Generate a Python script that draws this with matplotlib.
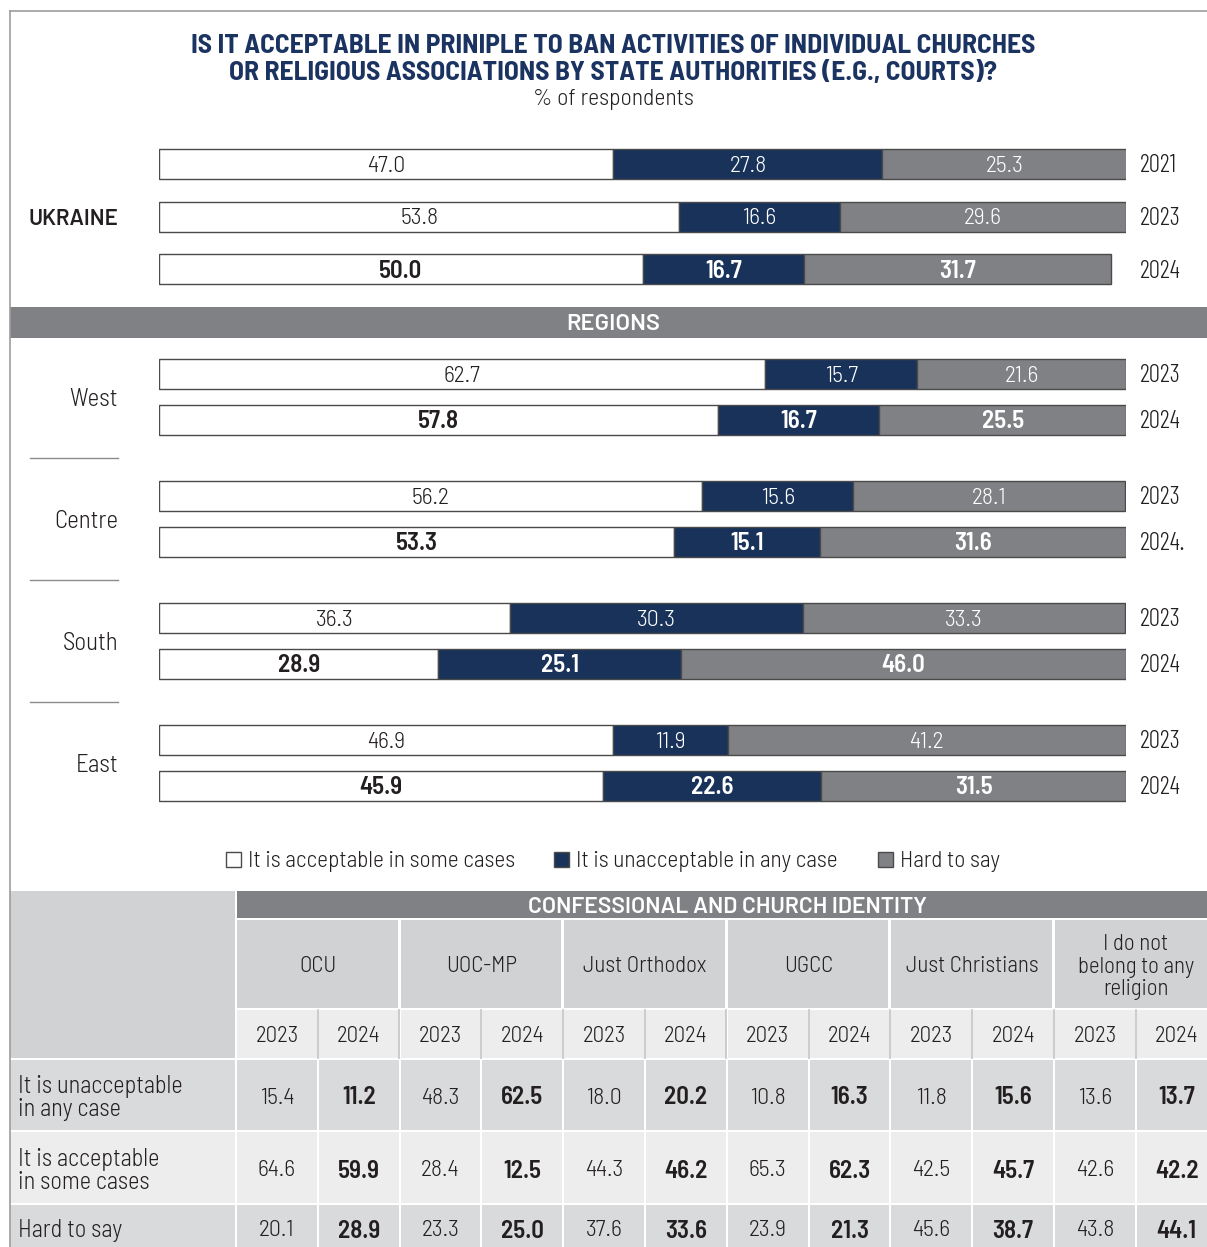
import matplotlib
matplotlib.use("Agg")
import matplotlib.pyplot as plt
from matplotlib.patches import Rectangle

# Datos de las barras: Ucrania
ukraine_years = ["2021", "2023", "2024"]
ukraine_acceptable = [47.0, 53.8, 50.0]
ukraine_unacceptable = [27.8, 16.6, 16.7]
ukraine_hard = [25.3, 29.6, 31.7]

# Datos de las barras: regiones (2023 y 2024)
regions = ["West", "Centre", "South", "East"]
region_year_labels = [["2023", "2024"], ["2023", "2024."], ["2023", "2024"], ["2023", "2024"]]
region_acceptable_2023 = [62.7, 56.2, 36.3, 46.9]
region_unacceptable_2023 = [15.7, 15.6, 30.3, 11.9]
region_hard_2023 = [21.6, 28.1, 33.3, 41.2]
region_acceptable_2024 = [57.8, 53.3, 28.9, 45.9]
region_unacceptable_2024 = [16.7, 15.1, 25.1, 22.6]
region_hard_2024 = [25.5, 31.6, 46.0, 31.5]

legend_labels = ["It is acceptable in some cases", "It is unacceptable in any case", "Hard to say"]

# Datos de la tabla por identidad confesional
groups = ["OCU", "UOC-MP", "Just Orthodox", "UGCC", "Just Christians",
          "I do not\nbelong to any\nreligion"]
table_years = ["2023", "2024"]
row_labels = ["It is unacceptable\nin any case", "It is acceptable\nin some cases", "Hard to say"]
unacceptable_2023 = [15.4, 48.3, 18.0, 10.8, 11.8, 13.6]
unacceptable_2024 = [11.2, 62.5, 20.2, 16.3, 15.6, 13.7]
acceptable_2023 = [64.6, 28.4, 44.3, 65.3, 42.5, 42.6]
acceptable_2024 = [59.9, 12.5, 46.2, 62.3, 45.7, 42.2]
hard_2023 = [20.1, 23.3, 37.6, 23.9, 45.6, 43.8]
hard_2024 = [28.9, 25.0, 33.6, 21.3, 38.7, 44.1]

# Colores
NAVY = "#18325a"
GREY = "#808184"
EDGE = "#4a4a4a"
TXT = "#231f20"
CELL_DARK = "#d9dadb"
CELL_LIGHT = "#ededed"
HEAD_CELL = "#d1d2d4"

# Fuentes tipo DIN
C_LIGHT = dict(family=["Barlow Condensed", "Open Sans", "DejaVu Sans"], fontstretch="condensed", fontweight=300)
S_LIGHT = dict(family=["Barlow Semi Condensed", "Open Sans", "DejaVu Sans"], fontstretch="condensed", fontweight=300)
S_BOLD = dict(family=["Barlow Semi Condensed", "Open Sans Condensed", "DejaVu Sans"], fontstretch="condensed", fontweight=600)
N_BOLD = dict(family=["Barlow", "Open Sans", "DejaVu Sans"], fontweight=600)

W, H = 1207, 1247
fig = plt.figure(figsize=(W / 100, H / 100), dpi=100)
fig.patch.set_facecolor("white")

# Eje de fondo en píxeles para textos, bandas y tabla
bg = fig.add_axes([0, 0, 1, 1])
bg.set_xlim(0, W)
bg.set_ylim(H, 0)
bg.axis("off")

# Marco
bg.plot([10, W], [11, 11], color="#9d9d9d", lw=1.2)
bg.plot([10, 10], [11, H], color="#9d9d9d", lw=1.2)

# Título
bg.text(613, 46, "IS IT ACCEPTABLE IN PRINIPLE TO BAN ACTIVITIES OF INDIVIDUAL CHURCHES",
        ha="center", va="center", fontsize=19.8, color="#1b3361",
        family=["Barlow Semi Condensed", "DejaVu Sans"], fontweight=700)
bg.text(613, 73, "OR RELIGIOUS ASSOCIATIONS BY STATE AUTHORITIES (E.G., COURTS)?",
        ha="center", va="center", fontsize=19.8, color="#1b3361",
        family=["Barlow Semi Condensed", "DejaVu Sans"], fontweight=700)
bg.text(613, 99, "% of respondents", ha="center", va="center", fontsize=17, color=TXT, **S_LIGHT)

# Eje de barras: x en %, y en píxeles
ax = fig.add_axes([159 / W, 0, 967 / W, 1])
ax.set_xlim(0, 100)
ax.set_ylim(H, 0)
ax.axis("off")

BAR_H = 30


def stacked_bar(y, acc, unacc, hard, bold):
    font = S_BOLD if bold else S_LIGHT
    size = 18 if bold else 17
    lefts = [0, acc, acc + unacc]
    widths = [acc, unacc, hard]
    colors = ["white", NAVY, GREY]
    tcolors = [TXT, "white", "white"]
    bars = ax.barh([y] * 3, widths, left=lefts, height=BAR_H, color=colors,
                   edgecolor=EDGE, linewidth=1.0)
    for b, w, tc in zip(bars, widths, tcolors):
        ax.text(b.get_x() + w / 2, y + 2, f"{w:.1f}", ha="center", va="center",
                fontsize=size, color=tc, **font)


ukraine_y = [164, 216.5, 269]
for i, y in enumerate(ukraine_y):
    stacked_bar(y, ukraine_acceptable[i], ukraine_unacceptable[i], ukraine_hard[i],
                bold=(i == len(ukraine_y) - 1))
    bg.text(1140, y + 2, ukraine_years[i], ha="left", va="center", fontsize=18, color=TXT, **C_LIGHT)
bg.text(118, 219, "UKRAINE", ha="right", va="center", fontsize=16, color=TXT, **N_BOLD)

# Banda "REGIONS"
bg.add_patch(Rectangle((10, 307), W - 10, 31, color=GREY, lw=0))
bg.text(613, 324, "REGIONS", ha="center", va="center", fontsize=17, color="white", **N_BOLD)

region_top = [374, 496, 618, 740]
for i, name in enumerate(regions):
    y1, y2 = region_top[i], region_top[i] + 46
    stacked_bar(y1, region_acceptable_2023[i], region_unacceptable_2023[i], region_hard_2023[i], False)
    stacked_bar(y2, region_acceptable_2024[i], region_unacceptable_2024[i], region_hard_2024[i], True)
    bg.text(1140, y1 + 2, region_year_labels[i][0], ha="left", va="center", fontsize=18, color=TXT, **C_LIGHT)
    bg.text(1140, y2 + 2, region_year_labels[i][1], ha="left", va="center", fontsize=18, color=TXT, **C_LIGHT)
    bg.text(118, (y1 + y2) / 2 + 2, name, ha="right", va="center", fontsize=18, color=TXT, **S_LIGHT)
    if i < len(regions) - 1:
        bg.plot([30, 118], [y2 + 38, y2 + 38], color="#8c8c8c", lw=1)

# Leyenda
leg_x = [226, 554, 878]
for x, lab, col in zip(leg_x, legend_labels, ["white", NAVY, GREY]):
    bg.add_patch(Rectangle((x, 852), 15, 15, facecolor=col, edgecolor=EDGE, lw=1))
    bg.text(x + 22, 861, lab, ha="left", va="center", fontsize=16.8, color=TXT, **S_LIGHT)

# Tabla
COL0, COLW = 237, 81.8
bg.add_patch(Rectangle((10, 891), 225, 167, color=HEAD_CELL, lw=0))
bg.add_patch(Rectangle((COL0, 891), W - COL0, 27, color=GREY, lw=0))
bg.text(COL0 + 6 * COLW, 907, "CONFESSIONAL AND CHURCH IDENTITY", ha="center", va="center",
        fontsize=16.5, color="white", **N_BOLD)

for g, name in enumerate(groups):
    gx = COL0 + g * 2 * COLW
    bg.add_patch(Rectangle((gx, 920), 2 * COLW - 3, 88, color=HEAD_CELL, lw=0))
    bg.text(gx + COLW - 1, 967, name, ha="center", va="center", fontsize=16.5,
            color=TXT, linespacing=1.08, **S_LIGHT)
    for k, yr in enumerate(table_years):
        cx = gx + k * COLW
        bg.add_patch(Rectangle((cx, 1010), COLW - 2, 48, color=CELL_LIGHT, lw=0))
        bg.text(cx + COLW / 2 - 1, 1037, yr, ha="center", va="center", fontsize=16.5,
                color=TXT, **S_LIGHT)
    bg.plot([gx + COLW - 1, gx + COLW - 1], [1010, 1058], color="#c4c4c4", lw=1.2)
    if g > 0:
        bg.plot([gx - 1.5, gx - 1.5], [1010, 1058], color="#c4c4c4", lw=1.2)

row_top = [1060, 1132, 1205]
row_h = [70, 71, 60]
row_col = [CELL_DARK, CELL_LIGHT, CELL_DARK]
row_text_y = [1098, 1171, 1231]
values = [(unacceptable_2023, unacceptable_2024),
          (acceptable_2023, acceptable_2024),
          (hard_2023, hard_2024)]
for r, lab in enumerate(row_labels):
    bg.add_patch(Rectangle((10, row_top[r]), 225, row_h[r], color=row_col[r], lw=0))
    bg.text(18, row_text_y[r], lab, ha="left", va="center", fontsize=17.5, color=TXT,
            linespacing=1.05, **S_LIGHT)
    v23, v24 = values[r]
    for g in range(len(groups)):
        for k, vals in enumerate((v23, v24)):
            cx = COL0 + (2 * g + k) * COLW
            bg.add_patch(Rectangle((cx, row_top[r]), COLW - 2, row_h[r], color=row_col[r], lw=0))
            font = S_BOLD if k == 1 else S_LIGHT
            size = 18 if k == 1 else 17
            bg.text(cx + COLW / 2 - 1, row_text_y[r], f"{vals[g]:.1f}", ha="center", va="center",
                    fontsize=size, color=TXT, **font)

fig.savefig("out.png", dpi=100)
